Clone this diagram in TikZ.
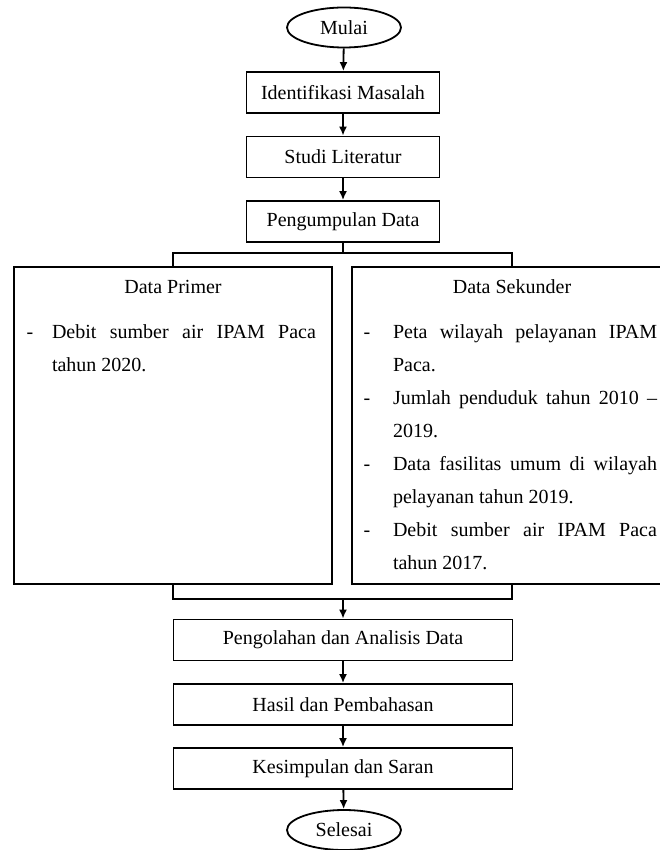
\documentclass[tikz,border=0pt]{standalone}
\usepackage{fontspec}
\setmainfont{Liberation Serif}
\usetikzlibrary{shapes.geometric}
\usetikzlibrary{arrows.meta}

\begin{document}
\begin{tikzpicture}[x=1pt, y=-1pt, line width=1.8pt, font=\fontsize{20}{24}\selectfont]
	\def \colw {264pt}
	\tikzset{
		box/.style={draw, minimum width=193pt, minimum height=41pt, inner sep=0pt},
		wide/.style={box, minimum width=339pt},
		term/.style={draw, ellipse, minimum width=114pt, minimum height=40pt, inner sep=0pt},
		txt/.style={anchor=base west, inner sep=0pt, outer sep=0pt},
		bullet/.style={anchor=base, inner sep=0pt}
	}
	\useasboundingbox (0,0) rectangle (659,850);

	\node[term] (mulai) at (344,27.5) {Mulai};
	\foreach \y/\t [count=\i] in {92.5/Identifikasi Masalah, 157/Studi Literatur, 221.5/Pengumpulan Data} {
		\node[box] (b\i) at (343,\y) {\t};
	}
	\foreach \y/\t [count=\i from 4] in {640/Pengolahan dan Analisis Data, 704.5/Hasil dan Pembahasan, 768.5/Kesimpulan dan Saran} {
		\node[wide] (b\i) at (343,\y) {\t};
	}
	\node[term] (selesai) at (344,830) {Selesai};

	\node[draw, minimum width=318pt, minimum height=317pt, inner sep=0pt] (primer) at (173,425.5) {};
	\node[draw, minimum width=320pt, minimum height=317pt, inner sep=0pt] (sekunder) at (512,425.5) {};
	\node[anchor=base] (primerT) at (173,293) {Data Primer};
	\node[anchor=base] (sekunderT) at (512,293) {Data Sekunder};

	\node[bullet] (pd1) at (30,338) {-};
	\node[txt] (p1) at (52,338) {\makebox[\colw][s]{Debit sumber air IPAM Paca}};
	\node[txt] (p2) at (52,371) {tahun 2020.};

	\foreach \y [count=\i] in {338,404,470,536} {
		\node[bullet] (sd\i) at (367,\y) {-};
	}
	\foreach \y/\al/\t [count=\i] in {338/s/Peta wilayah pelayanan IPAM, 371/l/Paca., 404/s/Jumlah penduduk tahun 2010 \textendash, 437/l/2019., 470/s/Data fasilitas umum di wilayah, 503/l/pelayanan tahun 2019., 536/s/Debit sumber air IPAM Paca, 569/l/tahun 2017.} {
		\node[txt] (s\i) at (393,\y) {\makebox[\colw][\al]{\t}};
	}

	\coordinate (split) at (343,253);
	\coordinate (join) at (343,599);

	\draw[->, >={Latex[length=9pt,width=8pt]}] (mulai) -- (b1);
	\draw[->, >={Latex[length=9pt,width=8pt]}] (b1) -- (b2);
	\draw[->, >={Latex[length=9pt,width=8pt]}] (b2) -- (b3);
	\draw (b3) -- (split);
	\draw (primer.north) |- (split) -| (sekunder.north);
	\draw (primer.south) |- (join) -| (sekunder.south);
	\draw[->, >={Latex[length=9pt,width=8pt]}] (join) -- (b4);
	\draw[->, >={Latex[length=9pt,width=8pt]}] (b4) -- (b5);
	\draw[->, >={Latex[length=9pt,width=8pt]}] (b5) -- (b6);
	\draw[->, >={Latex[length=9pt,width=8pt]}] (b6) -- (selesai);
\end{tikzpicture}
\end{document}
